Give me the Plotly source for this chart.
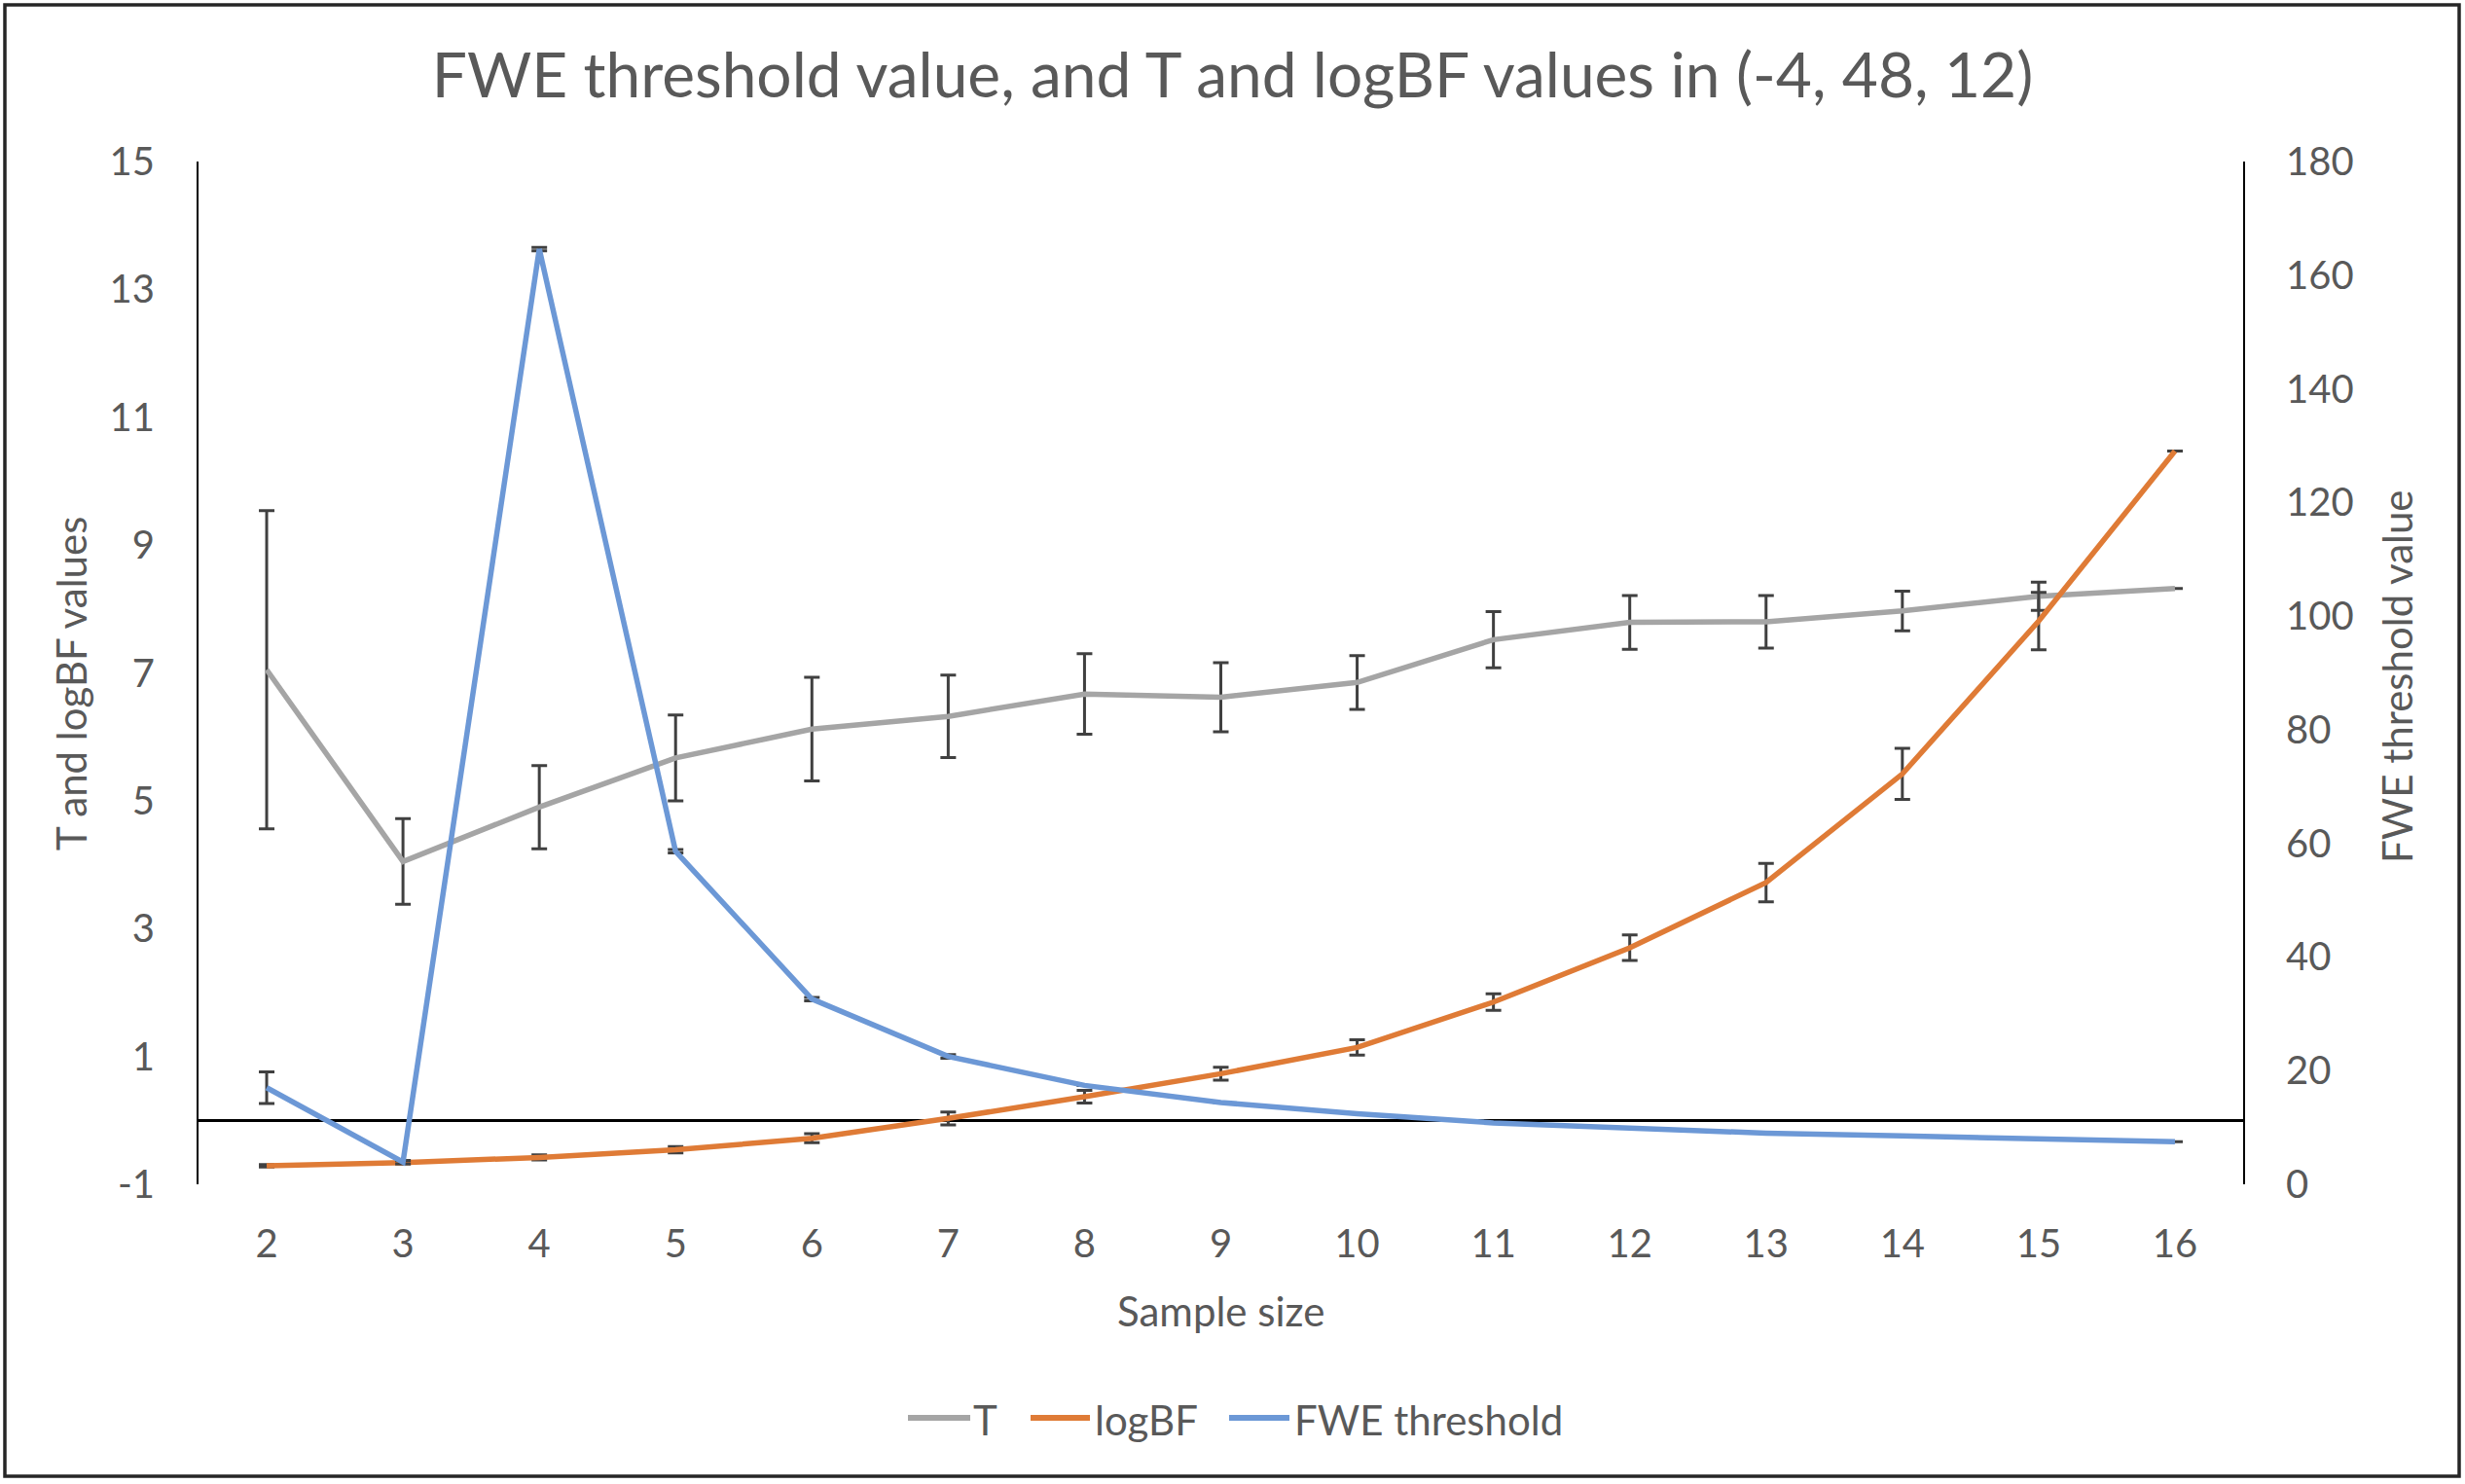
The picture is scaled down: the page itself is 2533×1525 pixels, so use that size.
import plotly.graph_objects as go

# ---- data ----
sample_size = [2, 3, 4, 5, 6, 7, 8, 9, 10, 11, 12, 13, 14, 15, 16]
t_values = [7.05, 4.05, 4.90, 5.67, 6.12, 6.32, 6.67, 6.62, 6.85, 7.52, 7.79, 7.80, 7.97, 8.20, 8.32]
t_err = [2.49, 0.67, 0.65, 0.67, 0.81, 0.645, 0.63, 0.54, 0.42, 0.44, 0.42, 0.41, 0.31, 0.22, None]
logbf_values = [-0.71, -0.66, -0.58, -0.46, -0.28, 0.03, 0.37, 0.73, 1.14, 1.85, 2.70, 3.72, 5.42, 7.81, 10.47]
logbf_err = [0.02, 0.02, 0.04, 0.05, 0.07, 0.10, 0.10, 0.10, 0.12, 0.13, 0.20, 0.30, 0.40, 0.45, None]
fwe_values = [17.0, 3.9, 164.6, 58.6, 32.6, 22.5, 17.4, 14.4, 12.4, 10.8, 9.9, 9.0, 8.5, 8.0, 7.5]
fwe_err = [2.8, 0.3, 0.3, 0.3, 0.3, 0.3, None, None, None, None, None, None, None, None, None]
left_ticks = [-1, 1, 3, 5, 7, 9, 11, 13, 15]
left_ticktext = ["-1", "1", "3", "5", "7", "9", "11", "13", "15"]
right_ticks = [0, 20, 40, 60, 80, 100, 120, 140, 160, 180]
series_names = ["T", "logBF", "FWE threshold"]
series_colors = ["#A5A5A5", "#DF7B36", "#6C98D6"]

TITLE = "FWE threshold value, and T and logBF values in (-4, 48, 12)"

W, H = 2533, 1525
L, R, T, B = 204, 228, 166, 308
pw, ph = W - L - R, H - T - B

FONT = "Lato"
TXT = "#595959"
ERRC = "#404040"
TICK_SIZE = 40
LABEL_SIZE = 42

def px2paper_x(px):
    return (px - L) / pw

def px2paper_y(py):
    return (H - B - py) / ph

fig = go.Figure()

for name, color, yv, err, ax in [
    (series_names[0], series_colors[0], t_values, t_err, "y"),
    (series_names[1], series_colors[1], logbf_values, logbf_err, "y"),
    (series_names[2], series_colors[2], fwe_values, fwe_err, "y2"),
]:
    fig.add_trace(go.Scatter(
        x=sample_size, y=yv, name=name, mode="lines", yaxis=ax, showlegend=False,
        line=dict(color=color, width=5.5),
        error_y=dict(type="data", array=err, visible=True, color=ERRC, thickness=3, width=8),
    ))

tickfont = dict(family=FONT, size=TICK_SIZE, color=TXT)
labelfont = dict(family=FONT, size=LABEL_SIZE, color=TXT)

annotations = [
    dict(text="T and logBF values", xref="paper", yref="paper", x=px2paper_x(73), y=px2paper_y(703),
         textangle=-90, showarrow=False, xanchor="center", yanchor="middle", font=labelfont),
    dict(text="FWE threshold value", xref="paper", yref="paper", x=px2paper_x(2463), y=px2paper_y(695),
         textangle=-90, showarrow=False, xanchor="center", yanchor="middle", font=labelfont),
    dict(text="Sample size", xref="paper", yref="paper", x=0.5, y=px2paper_y(1347),
         showarrow=False, xanchor="center", yanchor="middle", font=labelfont),
]
shapes = [
    dict(type="rect", xref="paper", yref="paper",
         x0=px2paper_x(5), x1=px2paper_x(2527), y0=px2paper_y(1517), y1=px2paper_y(5),
         line=dict(color="#262626", width=3.5), fillcolor="rgba(0,0,0,0)", layer="below"),
]

# legend (line sample + label), laid out like the reference
LEG_Y = 1457
leg_line_x = [(933, 997), (1059, 1120), (1263, 1325)]
leg_text_x = [1000, 1125, 1330]
for name, color, (lx0, lx1), tx in zip(series_names, series_colors, leg_line_x, leg_text_x):
    shapes.append(dict(type="line", xref="paper", yref="paper",
                       x0=px2paper_x(lx0), x1=px2paper_x(lx1), y0=px2paper_y(LEG_Y), y1=px2paper_y(LEG_Y),
                       line=dict(color=color, width=6)))
    annotations.append(dict(text=name, xref="paper", yref="paper", x=px2paper_x(tx), y=px2paper_y(LEG_Y + 2),
                            showarrow=False, xanchor="left", yanchor="middle", font=labelfont,
                            xshift=-2))

fig.update_layout(
    width=W, height=H,
    margin=dict(l=L, r=R, t=T, b=B),
    paper_bgcolor="white", plot_bgcolor="white",
    font=dict(family=FONT, size=LABEL_SIZE, color=TXT),
    title=dict(text=TITLE, x=0.5, xanchor="center", y=1 - 78 / H, yanchor="middle",
               font=dict(family=FONT, size=64, color=TXT)),
    showlegend=False,
    xaxis=dict(range=[1.5, 16.5], tickvals=sample_size, ticktext=[str(s) for s in sample_size],
               showline=False, showgrid=False, zeroline=False, ticks="", tickfont=tickfont,
               ticklabelstandoff=34),
    yaxis=dict(range=[-1, 15], tickvals=left_ticks, ticktext=left_ticktext,
               showline=True, linecolor="#000000", linewidth=2,
               showgrid=False, zeroline=True, zerolinecolor="#000000", zerolinewidth=2.5,
               ticks="", tickfont=tickfont, ticklabelstandoff=35),
    yaxis2=dict(range=[0, 180], tickvals=right_ticks, overlaying="y", side="right",
                showline=True, linecolor="#000000", linewidth=2, showgrid=False, zeroline=False,
                ticks="", tickfont=tickfont, ticklabelstandoff=34),
    annotations=annotations,
    shapes=shapes,
)

fig.write_html(
    "out.html",
    config={"displayModeBar": False},
    post_script="document.body.style.margin='0';document.body.style.padding='0';"
                "document.documentElement.style.overflow='hidden';",
)
